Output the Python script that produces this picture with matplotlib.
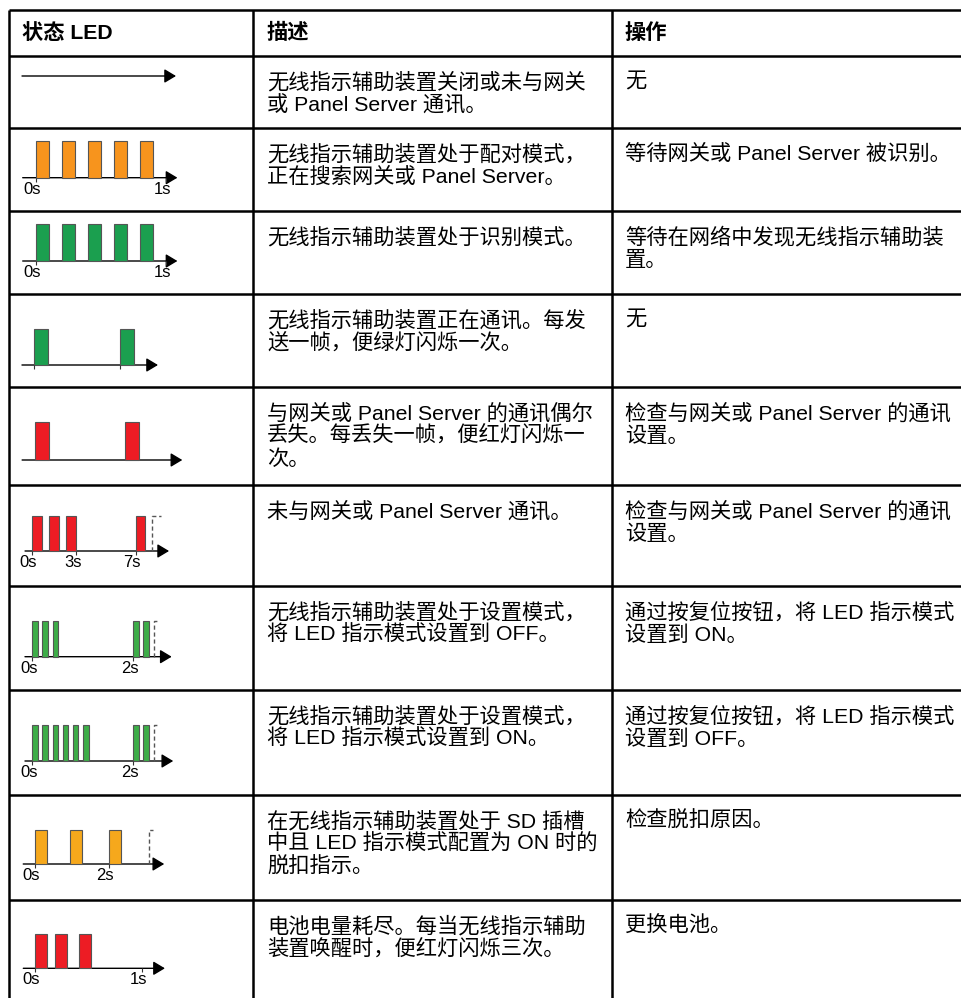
import matplotlib.pyplot as plt

# 表格文字
headers = ["状态 LED", "描述", "操作"]

descriptions = [
    ["无线指示辅助装置关闭或未与网关", "或 Panel Server 通讯。"],
    ["无线指示辅助装置处于配对模式，", "正在搜索网关或 Panel Server。"],
    ["无线指示辅助装置处于识别模式。"],
    ["无线指示辅助装置正在通讯。每发", "送一帧，便绿灯闪烁一次。"],
    ["与网关或 Panel Server 的通讯偶尔", "丢失。每丢失一帧，便红灯闪烁一", "次。"],
    ["未与网关或 Panel Server 通讯。"],
    ["无线指示辅助装置处于设置模式，", "将 LED 指示模式设置到 OFF。"],
    ["无线指示辅助装置处于设置模式，", "将 LED 指示模式设置到 ON。"],
    ["在无线指示辅助装置处于 SD 插槽", "中且 LED 指示模式配置为 ON 时的", "脱扣指示。"],
    ["电池电量耗尽。每当无线指示辅助", "装置唤醒时，便红灯闪烁三次。"],
]

actions = [
    ["无"],
    ["等待网关或 Panel Server 被识别。"],
    ["等待在网络中发现无线指示辅助装", "置。"],
    ["无"],
    ["检查与网关或 Panel Server 的通讯", "设置。"],
    ["检查与网关或 Panel Server 的通讯", "设置。"],
    ["通过按复位按钮，将 LED 指示模式", "设置到 ON。"],
    ["通过按复位按钮，将 LED 指示模式", "设置到 OFF。"],
    ["检查脱扣原因。"],
    ["更换电池。"],
]

# LED 闪烁时序（秒），每行一组
pulse_starts = [
    [],
    [0, 0.2, 0.4, 0.6, 0.8],
    [0, 0.2, 0.4, 0.6, 0.8],
    [0, 1.0],
    [0, 1.0],
    [0, 1.17, 2.32, 7.0],
    [0, 0.2, 0.4, 2.0, 2.2],
    [0, 0.2, 0.4, 0.6, 0.8, 1.0, 2.0, 2.2],
    [0, 0.95, 2.0],
    [0, 0.19, 0.41],
]
pulse_widths = [0, 0.106, 0.106, 0.16, 0.16, 0.66, 0.115, 0.113, 0.33, 0.113]
axis_start = [0, -0.1, -0.1, -0.136, -0.14, -0.47, -0.145, -0.145, -0.31, -0.106]
axis_end = [1.0, 1.09, 1.09, 1.44, 1.64, 9.26, 2.76, 2.79, 3.5, 1.21]
next_pulse = [None, None, None, None, None, (8.1, 8.72), (2.41, 2.46), (2.40, 2.46), (3.08, 3.2), None]
tick_times = [[], [0, 1], [0, 1], [0, 1.0], [], [0, 3, 7], [0, 2], [0, 2], [0, 2], [0, 1]]
tick_labels = [[], ["0s", "1s"], ["0s", "1s"], [], [], ["0s", "3s", "7s"],
               ["0s", "2s"], ["0s", "2s"], ["0s", "2s"], ["0s", "1s"]]
led_colors = [None, "#F7941D", "#1B9F4F", "#1B9F4F", "#ED1C24", "#ED1C24",
              "#3DAD48", "#3DAD48", "#F6A81C", "#ED1C24"]

# 版面（像素）
W, H = 961, 998
row_tops = [10, 56, 128, 211, 294, 387, 485, 586, 690, 795, 900]
col_x = [9, 253, 612]
text_x = [22, 267, 625]
# 每个图：0 点像素位置、像素/秒、基线 y、脉冲顶 y
led_layout = [
    (22, 154, 76, 40),
    (35.7, 130, 177.7, 141),
    (35.7, 130, 261, 224.3),
    (33.7, 86.3, 365, 329),
    (34.7, 90, 460, 422.3),
    (32, 14.8, 551, 516.3),
    (32.3, 50.5, 656.7, 620.7),
    (32.3, 50.5, 761, 725),
    (34.7, 37, 864, 830),
    (34.7, 107.6, 968.3, 934.3),
]

FONT = ["Liberation Sans", "Noto Sans CJK SC"]
FS = 15.3

fig = plt.figure(figsize=(W / 100, H / 100), dpi=100)
base = fig.add_axes([0, 0, 1, 1])
base.set_xlim(0, W)
base.set_ylim(H, 0)
base.axis("off")

# 表格线
base.hlines(row_tops, col_x[0], W, color="black", lw=1.8)
base.vlines(col_x, row_tops[0], H, color="black", lw=1.8)

# 表头
for x, h in zip(text_x, headers):
    base.text(x, 33, h, fontsize=FS, fontweight="bold", family=FONT, va="center", ha="left")

# 单元格文字
bounds = row_tops[1:] + [H]
for i in range(len(descriptions)):
    top = row_tops[i + 1]
    for j, line in enumerate(descriptions[i]):
        base.text(text_x[1], top + 26 + 23 * j, line, fontsize=FS, family=FONT, va="center", ha="left")
    for j, line in enumerate(actions[i]):
        base.text(text_x[2], top + 26 + 23 * j, line, fontsize=FS, family=FONT, va="center", ha="left")

# LED 时序图
for i in range(len(pulse_starts)):
    top, bot = row_tops[i + 1], bounds[i + 1] if i + 1 < len(bounds) else H
    x0, scale, yb, yt = led_layout[i]
    left, right = col_x[0] + 1, col_x[1] - 1
    ax = fig.add_axes([left / W, 1 - bot / H, (right - left) / W, (bot - top) / H])
    ax.set_xlim((left - x0) / scale, (right - x0) / scale)
    hh = yb - yt
    ax.set_ylim((yb - bot) / hh, (yb - top) / hh)
    ax.axis("off")

    ax.annotate("", xy=(axis_end[i], 0), xytext=(axis_start[i], 0),
                arrowprops=dict(arrowstyle="-|>,head_length=0.5,head_width=0.3",
                                mutation_scale=14, color="black", lw=1.0,
                                shrinkA=0, shrinkB=0), zorder=1)
    if pulse_starts[i]:
        ax.bar(pulse_starts[i], 1, width=pulse_widths[i], align="edge",
               color=led_colors[i], edgecolor="#555555", linewidth=0.8, zorder=2)
    if next_pulse[i]:
        d1, d2 = next_pulse[i]
        ax.plot([d1, d1, d2], [0, 1, 1], color="#555555", lw=1, ls=(0, (3, 2)))
    if tick_times[i]:
        ax.vlines(tick_times[i], -4 / hh, 0, color="#333333", lw=0.8)
    for t, lab in zip(tick_times[i], tick_labels[i]):
        ax.annotate(lab, xy=(t, 0), xytext=(-2.5, -8.2), textcoords="offset points",
                    ha="center", va="center", fontsize=12, family=FONT)

fig.savefig("out.png", dpi=100)
